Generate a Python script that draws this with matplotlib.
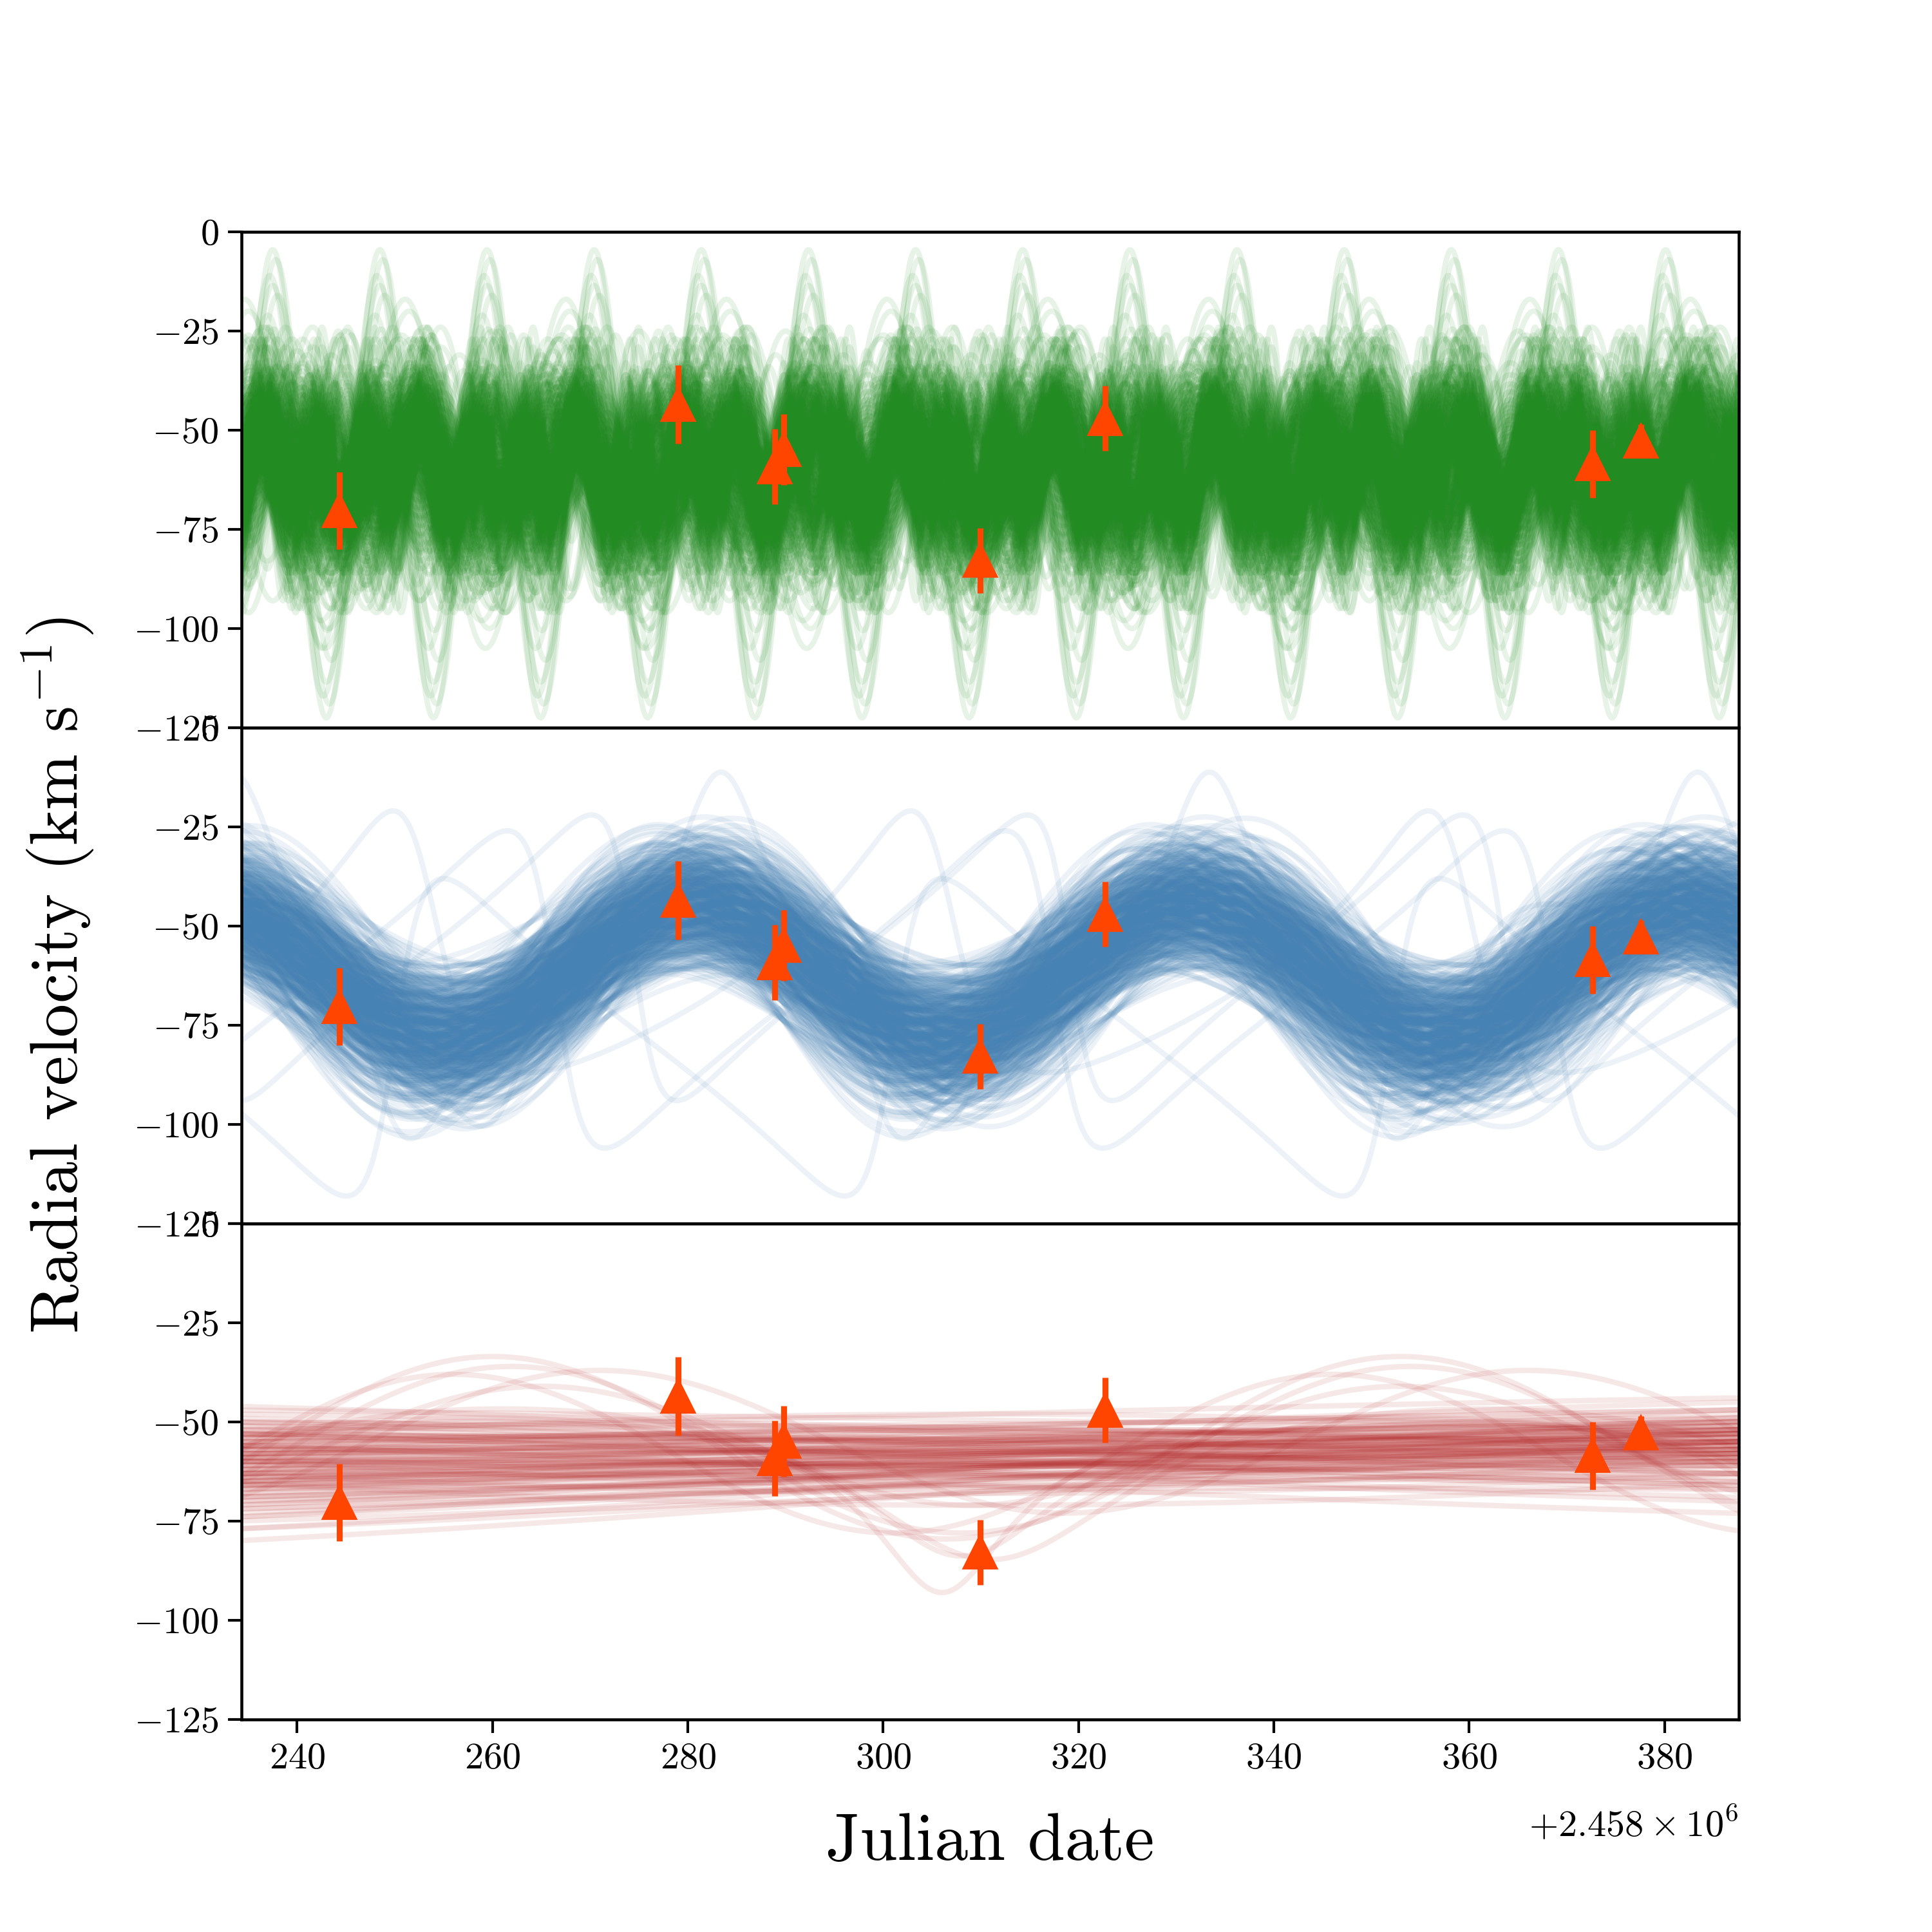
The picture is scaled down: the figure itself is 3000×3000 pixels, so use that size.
import numpy as np
import matplotlib
matplotlib.use("Agg")
import matplotlib.pyplot as plt

plt.rcParams['font.family'] = 'serif'
plt.rcParams['font.serif'] = ['cmr10']
plt.rcParams['mathtext.fontset'] = 'cm'
plt.rcParams['axes.formatter.use_mathtext'] = True

JD0 = 2458000.0

# observed radial velocities (days after JD0, km/s)
obs_t = [244.3, 279.0, 288.9, 289.8, 309.9, 322.7, 372.6, 377.6]
obs_rv = [-70.3, -43.5, -59.2, -54.9, -82.8, -47.0, -58.5, -52.7]
obs_err = [9.8, 9.9, 9.5, 8.9, 8.2, 8.2, 8.5, 4.2]

# --- top panel (green): short period orbits
green_P = [5.4, 8.2, 10.97, 13.1, 16.45]
green_peak = [236.5, 236.0, 237.5, 240.0, 234.6]
green_phase = [-0.12, -0.04, 0.04, 0.12]
green_K = [5.0, 10.0, 15.0, 20.0]
green_gamma = [-64.0, -62.0, -60.0, -58.0, -56.0]
# per (period, phase) amplitude scale and velocity offset
green_scale = [1.00, 0.86, 1.12, 0.93, 1.18, 0.82, 1.05, 0.97, 0.89, 1.15,
               1.02, 0.84, 1.09, 0.95, 1.20, 0.88, 1.03, 0.91, 1.13, 0.99]
green_goff = [0.0, 2.1, -1.7, 3.0, -2.6, 1.2, -0.8, 2.7, -3.1, 0.6,
              1.8, -2.2, -0.3, 3.3, -1.1, 2.4, -2.9, 0.9, -1.5, 1.5]
green_mK = [22.0, 24.0, 26.0, 28.0, 30.0, 32.0, 34.0, 36.0]
green_mgamma = [-58.0, -62.0, -60.0, -57.0, -63.0, -59.0, -61.0, -60.0]
# extra wide samples: period, semi-amplitude, time of peak, systemic velocity
green_xP = [10.97, 10.97, 10.97, 10.97, 10.97, 10.97, 10.97,
            16.45, 16.45, 16.45, 16.45, 8.2, 8.2, 8.2, 13.1, 13.1,
            6.7, 6.7, 9.4, 9.4, 5.4, 5.4, 7.4, 12.0, 15.0]
green_xK = [59, 56, 53, 50, 46, 42, 38,
            44, 40, 36, 30, 35, 32, 28, 30, 26,
            30, 24, 33, 27, 25, 20, 26, 29, 34]
green_xtp = [237.5, 237.8, 237.2, 237.5, 238.0, 237.0, 237.6,
             234.6, 235.0, 234.2, 235.4, 236.0, 237.3, 239.1, 240.0, 243.5,
             238.0, 240.3, 235.0, 238.2, 236.5, 238.4, 239.0, 241.0, 245.0]
green_xgamma = [-63.5, -63.0, -64.0, -63.5, -62.0, -63.0, -62.5,
                -61.0, -60.0, -62.0, -59.0, -60.0, -58.0, -62.0, -60.0, -57.0,
                -60.0, -61.0, -59.0, -62.0, -60.0, -58.0, -61.0, -60.0, -59.0]

# --- middle panel (blue): ~51 day orbit
blue_P = [49.3, 50.4, 51.2, 52.6]
blue_tp = [277.0, 279.8, 281.7, 284.5]
blue_K = [11.0, 14.5, 18.0, 21.5, 26.0]
blue_gamma = [-71.0, -66.5, -63.0, -60.0, -56.5, -52.0]
blue_scale = [1.00, 0.90, 1.10, 0.95, 1.15, 0.85, 1.05, 0.92,
              1.08, 0.88, 1.12, 0.97, 0.93, 1.03, 0.87, 1.13]
blue_goff = [0.0, 1.8, -1.5, 2.6, -2.3, 0.9, -0.6, 2.2,
             -2.8, 1.3, 0.4, -1.9, 2.9, -1.1, 1.6, -0.2]
# eccentric outliers: P, K, e, omega, periastron time, gamma
blue_xP = [50.0, 51.0, 44.6, 51.0, 50.5, 47.0, 53.0]
blue_xK = [32.0, 40.0, 36.0, 40.0, 30.0, 28.0, 33.0]
blue_xe = [0.4, 0.5, 0.5, 0.5, 0.4, 0.35, 0.45]
blue_xw = [0.0, 1.57, 1.57, 4.71, 2.5, 4.0, 1.0]
blue_xtp = [283.4, 266.5, 274.5, 250.0, 300.0, 262.0, 306.0]
blue_xgamma = [-56.0, -66.0, -58.0, -78.0, -64.0, -66.0, -62.0]

# --- bottom panel (red): long period trends
red_K = [-9.7, -4.9, -2.1, 2.1, -2.8, 2.1, 0.7, 5.6, 2.8, 4.9,
         -1.4, 3.5, 9.7, 2.8, 6.3, 8.3, 5.6, 7.6, 4.9, 12.5,
         9.0, 11.8, 9.7, 13.2, 17.4, -9.0, -9.7, -3.5, 5.6, -0.7]
red_gamma = [-56.0, -54.5, -54.5, -53.5, -58.0, -55.5, -57.5, -54.0, -57.0, -56.5,
             -61.0, -58.5, -55.0, -60.0, -58.5, -58.0, -61.0, -60.5, -63.5, -59.0,
             -62.5, -61.5, -65.0, -64.5, -64.5, -59.5, -63.0, -52.5, -51.0, -63.5]
red_shift = [-3.0, 0.0, 3.0]
red_P = 600.0
red_tp = 460.0
# bowed samples peaking (or dipping) mid-season
red_bK = [6.0, -6.0, 8.0, -8.0, 5.0, -5.0, 7.0, -7.0]
red_bgamma = [-58.0, -62.0, -60.0, -58.0, -66.0, -50.0, -55.0, -64.0]
red_bP = 350.0
red_btp = 310.0
# curved samples: P, K, e, omega, periastron time, gamma
red_xP = [93.0, 92.0, 95.0, 90.0, 95.0, 97.0, 88.0, 100.0]
red_xK = [23.0, 21.0, 18.0, 20.0, 22.0, 17.0, 15.0, 19.0]
red_xe = [0.0, 0.0, 0.0, 0.0, 0.5, 0.4, 0.0, 0.3]
red_xw = [0.0, 0.0, 0.0, 0.0, 3.14, 3.14, 0.0, 3.14]
red_xtp = [260.0, 262.0, 271.0, 256.0, 306.0, 308.0, 265.0, 311.0]
red_xgamma = [-56.5, -57.0, -55.0, -58.0, -60.0, -60.0, -56.0, -60.0]


def kepler_rv(t, P, K, e, w, tp, gamma):
    M = np.mod(2 * np.pi * (t - tp) / P, 2 * np.pi)
    E = M + 0.85 * e * np.sign(np.sin(M))
    for _ in range(60):
        E = E - (E - e * np.sin(E) - M) / (1 - e * np.cos(E))
    nu = 2 * np.arctan2(np.sqrt(1 + e) * np.sin(E / 2), np.sqrt(1 - e) * np.cos(E / 2))
    return gamma + K * (np.cos(nu + w) + e * np.cos(w))


t = np.linspace(min(obs_t) - 10, max(obs_t) + 10, 2500)

green = []
j = 0
for P, pk in zip(green_P, green_peak):
    for ph in green_phase:
        for K in green_K:
            for g in green_gamma:
                green.append(kepler_rv(t, P, K * green_scale[j], 0.0, 0.0, pk + ph * P,
                                       g + green_goff[j]))
        j += 1
    for i in range(len(green_mK)):
        ph = green_phase[i % len(green_phase)]
        green.append(kepler_rv(t, P, green_mK[i], 0.0, 0.0, pk + ph * P, green_mgamma[i]))
for i in range(len(green_xP)):
    green.append(kepler_rv(t, green_xP[i], green_xK[i], 0.0, 0.0, green_xtp[i], green_xgamma[i]))

blue = []
j = 0
for P in blue_P:
    for tp in blue_tp:
        for K in blue_K:
            for g in blue_gamma:
                blue.append(kepler_rv(t, P, K * blue_scale[j], 0.0, 0.0, tp, g + blue_goff[j]))
        j += 1
for i in range(len(blue_xP)):
    blue.append(kepler_rv(t, blue_xP[i], blue_xK[i], blue_xe[i], blue_xw[i], blue_xtp[i], blue_xgamma[i]))

red = []
for i in range(len(red_K)):
    for s in red_shift:
        red.append(kepler_rv(t, red_P, red_K[i], 0.0, 0.0, red_tp, red_gamma[i] + s))
for i in range(len(red_bK)):
    red.append(kepler_rv(t, red_bP, red_bK[i], 0.0, 0.0, red_btp, red_bgamma[i]))
for i in range(len(red_xP)):
    red.append(kepler_rv(t, red_xP[i], red_xK[i], red_xe[i], red_xw[i], red_xtp[i], red_xgamma[i]))

fig, axes = plt.subplots(3, 1, figsize=(10, 10), sharex=True)
fig.subplots_adjust(hspace=0)

panels = [(green, '#228B22'), (blue, '#4682B4'), (red, '#B22222')]
x = JD0 + t
for ax, (curves, col) in zip(axes, panels):
    ax.plot(x, np.array(curves).T, color=col, alpha=0.1, lw=2)
    ax.errorbar(JD0 + np.array(obs_t), obs_rv, yerr=obs_err, fmt='^', color='#FF4500',
                ms=12, elinewidth=2.2, capsize=0, zorder=10)
    ax.set_ylim(-125, 0)
    ax.set_yticks([-125, -100, -75, -50, -25, 0])
    ax.tick_params(labelsize=14, length=5, width=1)
    for sp in ax.spines.values():
        sp.set_linewidth(1.1)

axes[0].tick_params(axis='x', bottom=False)
axes[1].tick_params(axis='x', bottom=False)
axes[2].set_xlim(x[0], x[-1])
axes[2].xaxis.get_offset_text().set_fontsize(14)
axes[2].xaxis.OFFSETTEXTPAD = 11
axes[2].set_xlabel('Julian date', fontsize=25, labelpad=14)
fig.text(0.03, 0.495, 'Radial velocity (km s$^{-1}$)', rotation=90,
         fontsize=25, va='center', ha='center')

fig.savefig('out.png', dpi=300)
